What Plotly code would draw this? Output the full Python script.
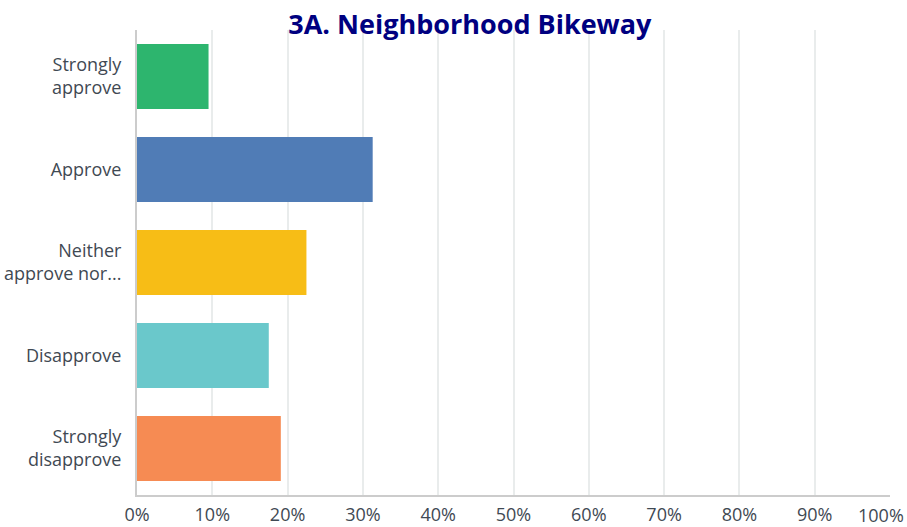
import plotly.graph_objects as go

# Survey responses for question 3A
categories = ["Strongly<br>approve", "Approve", "Neither<br>approve nor...", "Disapprove", "Strongly<br>disapprove"]
percent = [9.5, 31.3, 22.5, 17.5, 19.1]
bar_colors = ["#2DB56E", "#507CB6", "#F7BD16", "#6AC8CB", "#F68B53"]
x_ticks = [0, 10, 20, 30, 40, 50, 60, 70, 80, 90, 100]
x_tick_text = [f"{v}%" for v in x_ticks]

TICK_FONT = dict(family="Open Sans", size=18, color="#3F4953")

fig = go.Figure(
    go.Bar(
        x=percent,
        y=categories,
        orientation="h",
        marker=dict(color=bar_colors, line=dict(width=0)),
        width=0.7,
        hoverinfo="skip",
    )
)

fig.update_layout(
    width=907,
    height=527,
    margin=dict(l=137, r=17, t=30, b=32, autoexpand=False),
    paper_bgcolor="white",
    plot_bgcolor="white",
    showlegend=False,
    title=dict(
        text="<b>3A. Neighborhood Bikeway</b>",
        font=dict(family="Open Sans", size=27, color="#000080"),
        x=0.518,
        xanchor="center",
        y=0.953,
        yanchor="middle",
    ),
    font=TICK_FONT,
)

# The last tick label is placed as a right-aligned note so it stays on the page
fig.update_xaxes(
    range=[0, 100],
    tickvals=x_ticks,
    ticktext=x_tick_text[:-1] + [""],
    showgrid=True,
    gridcolor="#E9ECEC",
    gridwidth=2,
    showline=True,
    linecolor="#CCCCCC",
    linewidth=2,
    zeroline=False,
    automargin=False,
    ticklabelstandoff=2,
    tickfont=TICK_FONT,
    fixedrange=True,
)
fig.add_annotation(
    x=x_ticks[-1],
    xref="x",
    y=0,
    yref="paper",
    text=x_tick_text[-1],
    showarrow=False,
    xanchor="right",
    yanchor="top",
    xshift=16,
    yshift=-6,
    font=TICK_FONT,
)

fig.update_yaxes(
    autorange="reversed",
    showgrid=False,
    showline=True,
    linecolor="#CCCCCC",
    linewidth=2,
    automargin=False,
    ticklabelstandoff=10,
    tickfont=TICK_FONT,
    fixedrange=True,
)

fig.write_html("out.html")
